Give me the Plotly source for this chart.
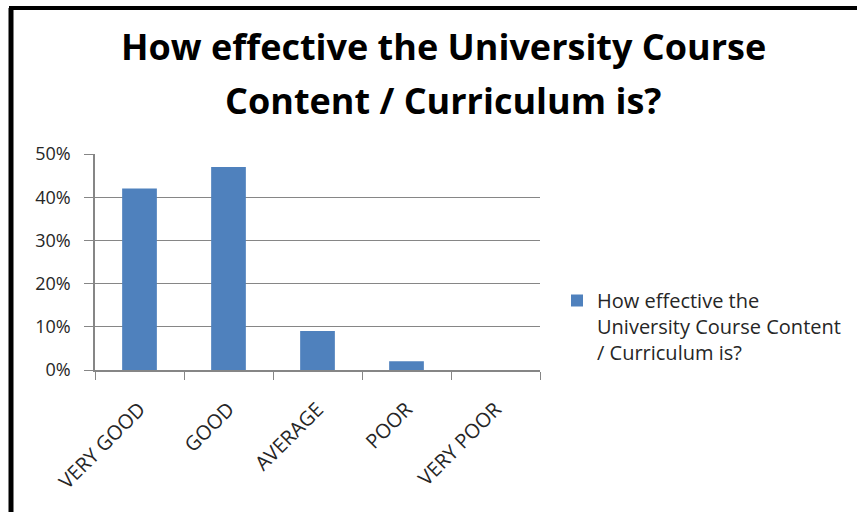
import plotly.graph_objects as go

# survey answers
categories = ["VERY GOOD", "GOOD", "AVERAGE", "POOR", "VERY POOR"]
shares = [0.42, 0.47, 0.09, 0.02, 0.0]
series_name = "How effective the<br>University Course Content<br>/ Curriculum is?"
title_lines = ["How effective the University Course", "Content / Curriculum is?"]

W, H = 857, 512
L, R, T, B = 95, 317, 154, 142
pw, ph = W - L - R, H - T - B


def px(x):
    return (x - L) / pw


def py(y):
    return (H - B - y) / ph


fig = go.Figure()
fig.add_trace(go.Bar(x=categories, y=shares, name=series_name,
                     marker=dict(color="#4F81BD", line=dict(width=0)),
                     showlegend=True))

grey = "#868686"
txt = "#262626"
fig.update_layout(
    width=W, height=H,
    margin=dict(l=L, r=R, t=T, b=B, autoexpand=False),
    paper_bgcolor="white", plot_bgcolor="white",
    bargap=0.61,
    font=dict(family="Open Sans, Liberation Sans, sans-serif", color=txt),
    xaxis=dict(showline=True, linecolor=grey, linewidth=1.5, tickangle=-45,
               ticks="outside", tickson="boundaries", ticklen=8, tickcolor=grey,
               ticklabelstandoff=18,
               tickfont=dict(size=20, color=txt), showgrid=False),
    yaxis=dict(range=[0, 0.5], dtick=0.1, tickformat=".0%", showline=True,
               linecolor=grey, linewidth=1.5, ticks="outside", ticklen=9, tickcolor=grey,
               gridcolor=grey, gridwidth=1, zeroline=False, ticklabelstandoff=10,
               tickfont=dict(size=18, color=txt)),
    legend=dict(x=px(557), y=py(281), xanchor="left", yanchor="top", valign="top",
                font=dict(size=20, color=txt), bgcolor="rgba(0,0,0,0)"),
)

# two-line bold title
for line, yc in zip(title_lines, [47, 100]):
    fig.add_annotation(text=line, xref="paper", yref="paper", x=px(443), y=py(yc),
                       xanchor="center", yanchor="middle", showarrow=False,
                       font=dict(size=36, color="black", family="Open Sans, sans-serif",
                                 weight="bold"))

# the black frame on the left and top of the picture
fig.add_shape(type="line", xref="paper", yref="paper",
              x0=px(11), x1=px(11), y0=py(512), y1=py(8),
              line=dict(color="black", width=5))
fig.add_shape(type="line", xref="paper", yref="paper",
              x0=px(9), x1=px(857), y0=py(8), y1=py(8),
              line=dict(color="black", width=4))

fig.write_html("out.html", config={"displayModeBar": False},
               post_script="document.body.style.margin='0';")
